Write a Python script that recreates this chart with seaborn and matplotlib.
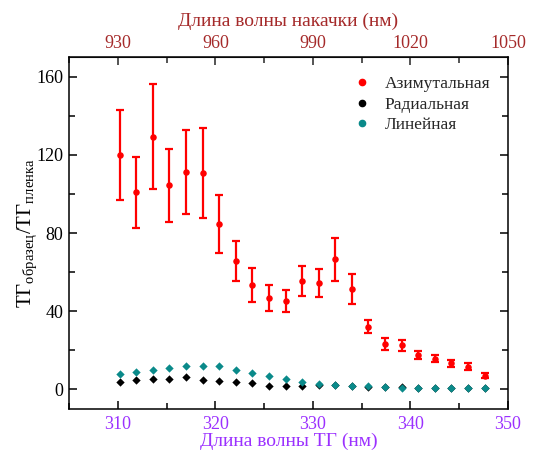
import matplotlib
matplotlib.use("Agg")
import matplotlib.pyplot as plt
from matplotlib.lines import Line2D
from matplotlib.ticker import MultipleLocator
import seaborn as sns
import pandas as pd

# ---- data ----
wl_thg = [310.2, 311.9, 313.6, 315.3, 317.0, 318.7, 320.4, 322.1, 323.8, 325.5,
          327.2, 328.9, 330.6, 332.3, 334.0, 335.7, 337.4, 339.1, 340.8, 342.5,
          344.2, 345.9, 347.6]
azim = [120.1, 100.8, 129.3, 104.5, 111.3, 110.6, 84.6, 65.6, 53.4, 46.8,
        45.4, 55.6, 54.4, 66.5, 51.4, 32.2, 23.1, 22.7, 17.5, 15.8,
        13.5, 11.7, 7.1]
azim_err = [23.0, 18.0, 27.0, 18.7, 21.5, 23.0, 15.0, 10.3, 8.9, 6.5,
            5.6, 7.7, 7.0, 11.2, 7.6, 3.2, 3.0, 2.8, 2.0, 2.0,
            1.8, 1.8, 1.3]
radial = [3.6, 4.6, 5.2, 5.4, 6.3, 4.7, 4.1, 3.7, 3.1, 2.0,
          1.9, 2.0, 2.5, 2.2, 1.6, 1.5, 1.3, 1.1, 1.0, 1.0,
          1.0, 1.0, 1.0]
linear = [7.8, 9.0, 9.7, 11.0, 12.2, 12.0, 12.0, 10.0, 8.6, 6.8,
          5.2, 3.9, 3.0, 2.5, 1.7, 1.7, 1.3, 1.0, 1.0, 1.0,
          1.0, 1.0, 1.0]
series_names = ["Азимутальная", "Радиальная", "Линейная"]
bottom_ticks = [310, 320, 330, 340, 350]
top_ticks = [930, 960, 990, 1020, 1050]
y_ticks = [0, 40, 80, 120, 160]

# ---- style ----
sns.set_style("ticks")
plt.rcParams["font.family"] = ["Liberation Serif", "DejaVu Serif"]
plt.rcParams["mathtext.fontset"] = "custom"
plt.rcParams["mathtext.rm"] = "Liberation Serif"
plt.rcParams["mathtext.it"] = "Liberation Serif"

RED = "#ff0000"
TEAL = "#0a8a8a"
PURPLE = "#9b30ff"
DARKRED = "#a52a2a"

fig = plt.figure(figsize=(5.33, 4.53), dpi=100)
ax = fig.add_axes([0.1295, 0.0971, 0.8235, 0.7769])

df_a = pd.DataFrame({"x": wl_thg, "y": azim})
df_r = pd.DataFrame({"x": wl_thg, "y": radial})
df_l = pd.DataFrame({"x": wl_thg, "y": linear})

ax.errorbar(wl_thg, azim, yerr=azim_err, fmt="none", ecolor=RED,
            elinewidth=1.6, capsize=3.2, capthick=1.6, zorder=2)
sns.scatterplot(data=df_a, x="x", y="y", ax=ax, color=RED, marker="o",
                s=22, edgecolor=RED, linewidth=0, zorder=3)
sns.scatterplot(data=df_r, x="x", y="y", ax=ax, color="black", marker="D",
                s=18, edgecolor="black", linewidth=0, zorder=3)
sns.scatterplot(data=df_l, x="x", y="y", ax=ax, color=TEAL, marker="D",
                s=18, edgecolor=TEAL, linewidth=0, zorder=4)

ax.set_xlim(305, 350)
ax.set_ylim(-10, 170)
ax.set_xticks(bottom_ticks)
ax.xaxis.set_minor_locator(MultipleLocator(5))
ax.set_yticks(y_ticks)
ax.yaxis.set_minor_locator(MultipleLocator(20))

for s in ax.spines.values():
    s.set_visible(True)
    s.set_linewidth(1.1)
    s.set_color("black")

ax.tick_params(axis="both", which="both", direction="in", top=False, right=True,
               width=1.1, color="black")
ax.tick_params(which="major", length=6)
ax.tick_params(which="minor", length=4)
ax.tick_params(axis="x", labelsize=13, labelcolor=PURPLE, pad=5)
ax.tick_params(axis="y", labelsize=13, labelcolor="black", pad=4)

ax.set_xlabel("Длина волны ТГ (нм)", fontsize=14, color=PURPLE, labelpad=0)
ax.set_ylabel(r"$\mathregular{ТГ_{образец}/ТГ_{пленка}}$", fontsize=15,
              color="black", labelpad=-2)

sec = ax.secondary_xaxis("top", functions=(lambda x: 3 * x, lambda x: x / 3))
sec.set_xticks(top_ticks)
sec.xaxis.set_minor_locator(MultipleLocator(15))
sec.tick_params(axis="x", which="both", direction="in", width=1.1,
                labelsize=13, labelcolor=DARKRED, pad=4)
sec.tick_params(which="major", length=6)
sec.tick_params(which="minor", length=4)
sec.set_xlabel("Длина волны накачки (нм)", fontsize=14, color=DARKRED,
               labelpad=6)

handles = [Line2D([], [], linestyle="none", marker="o", markersize=4.5,
                  color=c) for c in [RED, "black", TEAL]]
ax.legend(handles, series_names, loc="upper right", frameon=False,
          fontsize=12.5, handlelength=1.0, handletextpad=0.8, labelspacing=0.25,
          bbox_to_anchor=(0.995, 0.99))

fig.savefig("out.png", dpi=100)
